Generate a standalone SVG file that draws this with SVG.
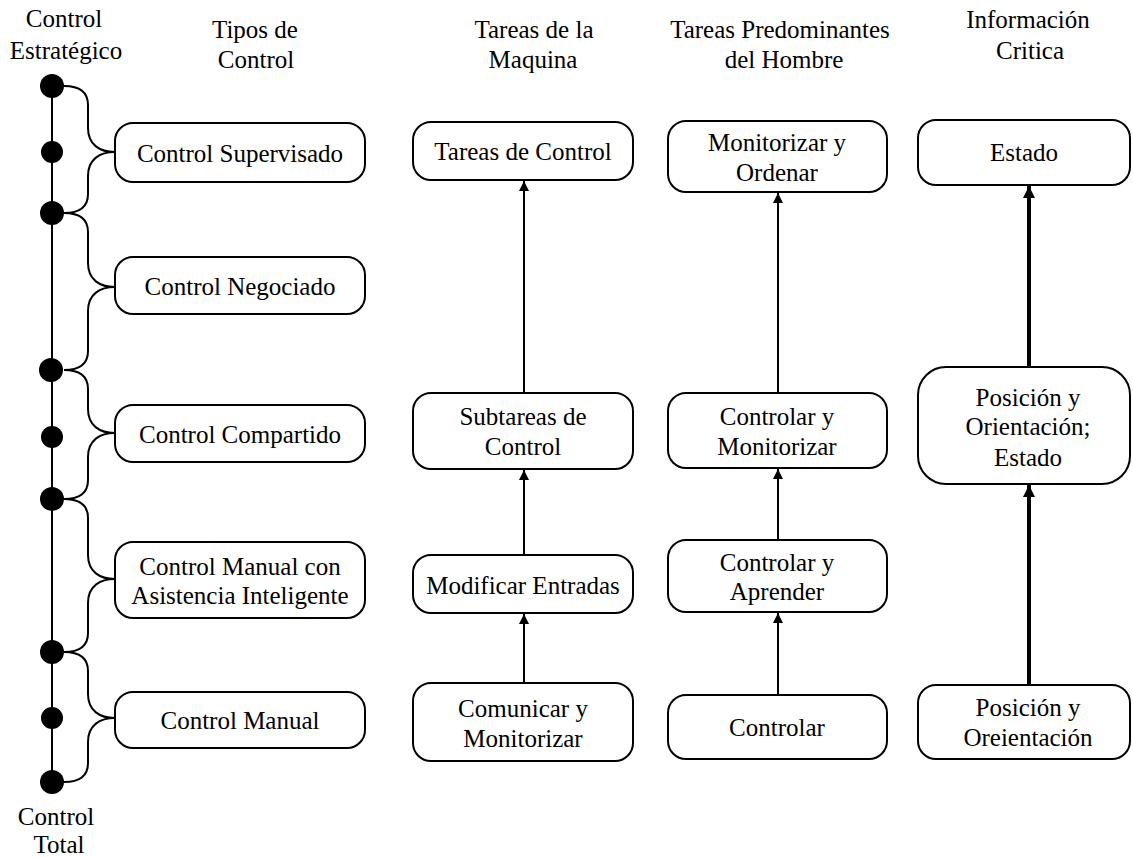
<svg xmlns="http://www.w3.org/2000/svg" width="1133" height="857" viewBox="0 0 1133 857">
  <style>
    text { font-size: 25px; fill: #000; text-anchor: middle; }
    .box { fill: #fff; stroke: #000; stroke-width: 2; }
    .link { fill: none; stroke: #000; stroke-width: 2; }
    .thick { fill: none; stroke: #000; stroke-width: 4; }
    .brace { fill: none; stroke: #000; stroke-width: 2; }
    .dot { fill: #000; }
  </style>
  <defs>
    <marker id="arrow" markerUnits="userSpaceOnUse" markerWidth="10" markerHeight="12" refX="10" refY="5" orient="auto" viewBox="0 0 10 10">
      <path d="M0,0 L10,5 L0,10 z" fill="#000"/>
    </marker>
    <marker id="arrowBold" markerUnits="userSpaceOnUse" markerWidth="12" markerHeight="12" refX="10" refY="5" orient="auto" viewBox="0 0 10 10">
      <path d="M0,0 L10,5 L0,10 z" fill="#000"/>
    </marker>
  </defs>

  <rect width="1133" height="857" fill="#fff"/>

  <g font-family="Liberation Serif, Times New Roman, serif">
  <!-- Column headings -->
  <g id="headings">
    <text x="64" y="27">Control</text>
    <text x="66" y="59">Estratégico</text>
    <text x="255" y="38">Tipos de</text>
    <text x="256" y="68">Control</text>
    <text x="534" y="38">Tareas de la</text>
    <text x="533" y="68">Maquina</text>
    <text x="780" y="38">Tareas Predominantes</text>
    <text x="784" y="68">del Hombre</text>
    <text x="1028" y="28">Información</text>
    <text x="1030" y="59">Critica</text>
    <text x="56" y="825">Control</text>
    <text x="59" y="853">Total</text>
  </g>

  <!-- Control scale: spine, stops and braces -->
  <g id="scale">
    <line x1="52" y1="86" x2="52" y2="782" class="link"/>
    <path class="brace" d="M64,86 C80,86 88,92 88,105 L88,128 C88,145 100,152 115,152 C100,152 88,159 88,176 L88,194 C88,207 80,213 64,213"/>
    <path class="brace" d="M64,213 C80,213 88,219 88,232 L88,263 C88,280 100,287 115,287 C100,287 88,294 88,311 L88,351 C88,364 80,370 64,370"/>
    <path class="brace" d="M64,370 C80,370 88,376 88,389 L88,409 C88,426 100,433 115,433 C100,433 88,440 88,457 L88,480 C88,493 80,499 64,499"/>
    <path class="brace" d="M64,499 C80,499 88,505 88,518 L88,555 C88,572 100,579 115,579 C100,579 88,586 88,603 L88,633 C88,646 80,652 64,652"/>
    <path class="brace" d="M64,652 C80,652 88,658 88,671 L88,694 C88,711 100,718 115,718 C100,718 88,725 88,742 L88,763 C88,776 80,782 64,782"/>
    <circle class="dot" cx="52" cy="86" r="12"/>
    <circle class="dot" cx="52" cy="152" r="11"/>
    <circle class="dot" cx="52" cy="213" r="12"/>
    <circle class="dot" cx="51" cy="370" r="12"/>
    <circle class="dot" cx="52" cy="437" r="11"/>
    <circle class="dot" cx="52" cy="499" r="12"/>
    <circle class="dot" cx="52" cy="652" r="12"/>
    <circle class="dot" cx="52" cy="718" r="11"/>
    <circle class="dot" cx="52" cy="782" r="12"/>
  </g>

  <!-- Connectors -->
  <g id="connectors">
    <line class="link" x1="524" y1="392" x2="524" y2="181" marker-end="url(#arrow)"/>
    <line class="link" x1="524" y1="554" x2="524" y2="470" marker-end="url(#arrow)"/>
    <line class="link" x1="524" y1="682" x2="524" y2="614" marker-end="url(#arrow)"/>
    <line class="link" x1="778" y1="392" x2="778" y2="193" marker-end="url(#arrow)"/>
    <line class="link" x1="778" y1="539" x2="778" y2="469" marker-end="url(#arrow)"/>
    <line class="link" x1="778" y1="694" x2="778" y2="613" marker-end="url(#arrow)"/>
    <line class="thick" x1="1029" y1="366" x2="1029" y2="186" marker-end="url(#arrowBold)"/>
    <line class="thick" x1="1029" y1="684" x2="1029" y2="485" marker-end="url(#arrowBold)"/>
  </g>

  <!-- Tipos de Control -->
  <g id="control-supervisado">
    <rect class="box" x="115" y="123" width="250" height="59" rx="18"/>
    <text x="240" y="162">Control Supervisado</text>
  </g>
  <g id="control-negociado">
    <rect class="box" x="115" y="257" width="250" height="57" rx="18"/>
    <text x="240" y="295">Control Negociado</text>
  </g>
  <g id="control-compartido">
    <rect class="box" x="115" y="405" width="250" height="57" rx="18"/>
    <text x="240" y="443">Control Compartido</text>
  </g>
  <g id="control-manual-asistencia">
    <rect class="box" x="115" y="542" width="250" height="76" rx="18"/>
    <text x="240" y="575">Control Manual con</text>
    <text x="240" y="604">Asistencia Inteligente</text>
  </g>
  <g id="control-manual">
    <rect class="box" x="115" y="692" width="250" height="56" rx="18"/>
    <text x="240" y="729">Control Manual</text>
  </g>

  <!-- Tareas de la Maquina -->
  <g id="tareas-control">
    <rect class="box" x="413" y="122" width="220" height="58" rx="18"/>
    <text x="523" y="160">Tareas de Control</text>
  </g>
  <g id="subtareas-control">
    <rect class="box" x="413" y="393" width="220" height="76" rx="18"/>
    <text x="523" y="425">Subtareas de</text>
    <text x="523" y="455">Control</text>
  </g>
  <g id="modificar-entradas">
    <rect class="box" x="413" y="555" width="220" height="58" rx="18"/>
    <text x="523" y="594">Modificar Entradas</text>
  </g>
  <g id="comunicar-monitorizar">
    <rect class="box" x="413" y="683" width="220" height="78" rx="18"/>
    <text x="523" y="717">Comunicar y</text>
    <text x="523" y="747">Monitorizar</text>
  </g>

  <!-- Tareas Predominantes del Hombre -->
  <g id="monitorizar-ordenar">
    <rect class="box" x="668" y="121" width="219" height="71" rx="18"/>
    <text x="777" y="151">Monitorizar y</text>
    <text x="777" y="181">Ordenar</text>
  </g>
  <g id="controlar-monitorizar">
    <rect class="box" x="668" y="393" width="219" height="75" rx="18"/>
    <text x="777" y="425">Controlar y</text>
    <text x="777" y="455">Monitorizar</text>
  </g>
  <g id="controlar-aprender">
    <rect class="box" x="668" y="540" width="219" height="72" rx="18"/>
    <text x="777" y="571">Controlar y</text>
    <text x="777" y="600">Aprender</text>
  </g>
  <g id="controlar">
    <rect class="box" x="668" y="695" width="219" height="64" rx="18"/>
    <text x="777" y="736">Controlar</text>
  </g>

  <!-- Informacion Critica -->
  <g id="estado">
    <rect class="box" x="918" y="120" width="212" height="65" rx="18"/>
    <text x="1024" y="161">Estado</text>
  </g>
  <g id="posicion-orientacion-estado">
    <rect class="box" x="918" y="367" width="212" height="117" rx="28"/>
    <text x="1028" y="406">Posición y</text>
    <text x="1028" y="435">Orientación;</text>
    <text x="1028" y="466">Estado</text>
  </g>
  <g id="posicion-oreientacion">
    <rect class="box" x="918" y="685" width="212" height="74" rx="18"/>
    <text x="1028" y="716">Posición y</text>
    <text x="1028" y="746">Oreientación</text>
  </g>
  </g>
</svg>
